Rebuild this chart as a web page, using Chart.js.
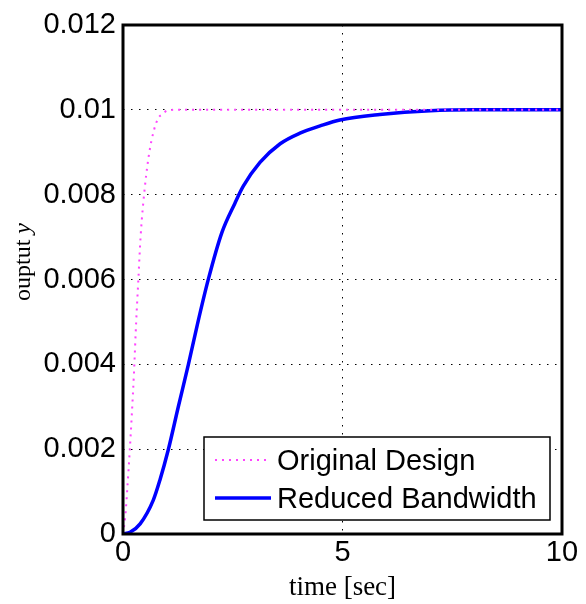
<!DOCTYPE html>
<html>
<head>
<meta charset="utf-8">
<script src="https://cdn.jsdelivr.net/npm/chart.js@4"></script>
<style>
  html, body { margin: 0; padding: 0; background: #fff; }
  #wrap { width: 586px; height: 604px; }
</style>
</head>
<body>
<div id="wrap"><canvas id="step-chart" width="586" height="604"></canvas></div>
<script>
// step responses
const origTime = [0, 0.05, 0.1, 0.15, 0.2, 0.25, 0.3, 0.35, 0.4, 0.5, 0.6, 0.7, 0.8, 0.9, 1.0, 1.2, 2, 4, 6, 8, 10];
const origOut  = [0, 0.0004, 0.0011, 0.0019, 0.0028, 0.0038, 0.0050, 0.0060, 0.0070, 0.0082, 0.0090, 0.0095, 0.0098, 0.0099, 0.00998, 0.01, 0.01, 0.01, 0.01, 0.01, 0.01];

const reducedTime = [0, 0.16, 0.39, 0.69, 0.84, 1.03, 1.26, 1.49, 1.69, 1.94, 2.25, 2.55, 2.74, 3.12, 3.58, 4.03, 4.49, 4.94, 5.85, 7, 8, 10];
const reducedOut  = [0, 0.00004, 0.00024, 0.0008, 0.00127, 0.00198, 0.003, 0.004, 0.00492, 0.00599, 0.0071, 0.0078, 0.0082, 0.00876, 0.0092, 0.00945, 0.00962, 0.00976, 0.00989, 0.00998, 0.01, 0.01];

const seriesNames = ['Original Design', 'Reduced Bandwidth'];
const yTicks = [0, 0.002, 0.004, 0.006, 0.008, 0.01, 0.012];
const yTickLabels = ['0', '0.002', '0.004', '0.006', '0.008', '0.01', '0.012'];
const xTicks = [0, 5, 10];
const xTickLabels = ['0', '5', '10'];

const sansFont = "'Liberation Sans', Arial, sans-serif";
const serifFont = "'Liberation Serif', 'DejaVu Serif', serif";

function toPoints(xs, ys) {
    return xs.map((x, i) => ({ x: x, y: ys[i] }));
}

// frame, axis titles and the in-plot legend
const matlabDecor = {
    id: 'matlabDecor',
    afterDatasetsDraw(chart) {
        const ctx = chart.ctx;
        const a = chart.chartArea;
        ctx.save();

        // black box round the axes
        ctx.strokeStyle = '#000';
        ctx.lineWidth = 3;
        ctx.setLineDash([]);
        ctx.strokeRect(a.left, a.top, a.right - a.left, a.bottom - a.top);

        // x title
        ctx.fillStyle = '#000';
        ctx.font = "27px " + serifFont;
        ctx.textAlign = 'center';
        ctx.textBaseline = 'middle';
        ctx.fillText('time [sec]', (a.left + a.right) / 2, 588);

        // y title with italic y
        ctx.translate(24, 262);
        ctx.rotate(-Math.PI / 2);
        const plain = 'ouptut ';
        ctx.font = "24px " + serifFont;
        const w1 = ctx.measureText(plain).width;
        ctx.font = "italic 24px " + serifFont;
        const w2 = ctx.measureText('y').width;
        ctx.textAlign = 'left';
        ctx.font = "24px " + serifFont;
        ctx.fillText(plain, -(w1 + w2) / 2, 0);
        ctx.font = "italic 24px " + serifFont;
        ctx.fillText('y', -(w1 + w2) / 2 + w1, 0);
        ctx.restore();

        // legend
        ctx.save();
        const bx = 204, by = 437, bw = 346, bh = 83;
        ctx.fillStyle = '#fff';
        ctx.fillRect(bx, by, bw, bh);
        ctx.strokeStyle = '#000';
        ctx.lineWidth = 1.5;
        ctx.strokeRect(bx, by, bw, bh);
        const rows = [by + 23, by + 61];
        chart.data.datasets.forEach((ds, i) => {
            ctx.beginPath();
            ctx.strokeStyle = ds.borderColor;
            ctx.lineWidth = ds.borderWidth;
            ctx.setLineDash(ds.borderDash || []);
            ctx.moveTo(bx + 11, rows[i]);
            ctx.lineTo(bx + 67, rows[i]);
            ctx.stroke();
            ctx.setLineDash([]);
            ctx.fillStyle = '#000';
            ctx.font = "29px " + sansFont;
            ctx.textAlign = 'left';
            ctx.textBaseline = 'middle';
            ctx.fillText(ds.label, bx + 73, rows[i] + 2);
        });
        ctx.restore();
    }
};

const ctx = document.getElementById('step-chart').getContext('2d');
new Chart(ctx, {
    type: 'line',
    data: {
        datasets: [
            {
                label: seriesNames[0],
                data: toPoints(origTime, origOut),
                borderColor: '#ff44ff',
                borderWidth: 2,
                borderDash: [2, 5],
                pointRadius: 0,
                fill: false,
                cubicInterpolationMode: 'monotone'
            },
            {
                label: seriesNames[1],
                data: toPoints(reducedTime, reducedOut),
                borderColor: '#0000ff',
                borderWidth: 3.5,
                pointRadius: 0,
                fill: false,
                cubicInterpolationMode: 'monotone'
            }
        ]
    },
    options: {
        responsive: false,
        animation: false,
        layout: { padding: { top: 25, right: 24, left: 0, bottom: 0 } },
        plugins: {
            legend: { display: false },
            tooltip: { enabled: false }
        },
        scales: {
            x: {
                type: 'linear',
                min: 0,
                max: 10,
                afterBuildTicks: s => { s.ticks = xTicks.map(v => ({ value: v })); },
                afterFit: s => { s.height = 70; },
                grid: { color: '#000', lineWidth: 1, drawTicks: false },
                border: { display: false, dash: [1.5, 6.5] },
                ticks: {
                    color: '#000',
                    padding: 2,
                    font: { family: sansFont, size: 29 },
                    callback: v => xTickLabels[xTicks.indexOf(v)]
                }
            },
            y: {
                type: 'linear',
                min: 0,
                max: 0.012,
                afterBuildTicks: s => { s.ticks = yTicks.map(v => ({ value: v })); },
                afterFit: s => { s.width = 123; },
                grid: { color: '#000', lineWidth: 1, drawTicks: false },
                border: { display: false, dash: [1.5, 6.5] },
                ticks: {
                    color: '#000',
                    padding: 7,
                    font: { family: sansFont, size: 29 },
                    callback: v => yTickLabels[yTicks.findIndex(t => Math.abs(t - v) < 1e-9)]
                }
            }
        }
    },
    plugins: [matlabDecor]
});
</script>
</body>
</html>
